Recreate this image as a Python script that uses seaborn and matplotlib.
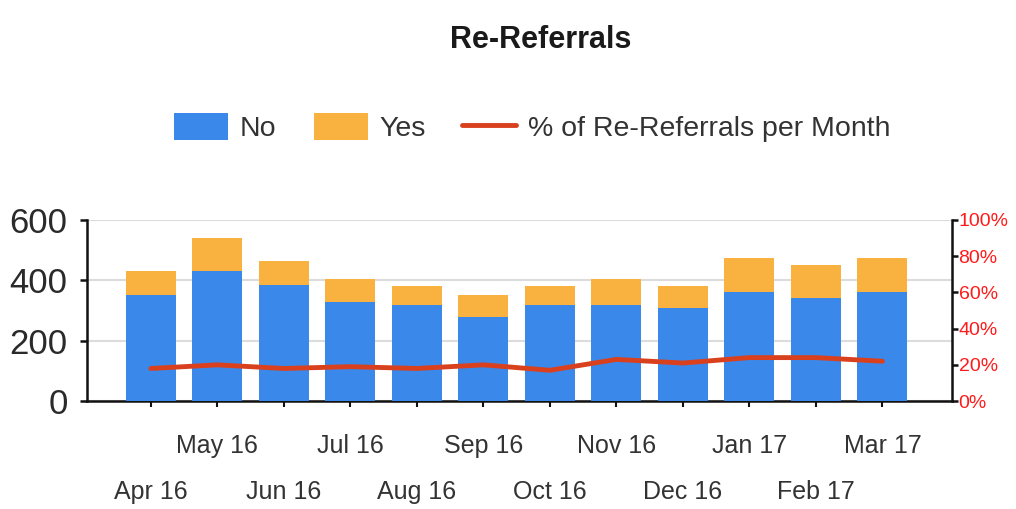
import matplotlib
matplotlib.use("Agg")
import matplotlib.pyplot as plt
import seaborn as sns
import pandas as pd
import numpy as np

# --- data ---
months = ["Apr 16", "May 16", "Jun 16", "Jul 16", "Aug 16", "Sep 16",
          "Oct 16", "Nov 16", "Dec 16", "Jan 17", "Feb 17", "Mar 17"]
no_counts = [350, 430, 383, 327, 317, 280, 317, 317, 307, 360, 340, 360]
yes_counts = [80, 110, 80, 76, 63, 70, 63, 86, 73, 113, 110, 113]
pct_rereferrals = [18, 20, 18, 19, 18, 20, 17, 23, 21, 24, 24, 22]
left_ticks = [0, 200, 400, 600]
right_ticks = [0, 20, 40, 60, 80, 100]

df = pd.DataFrame({"Month": months, "No": no_counts, "Yes": yes_counts})
df["Total"] = df["No"] + df["Yes"]

blue = "#3a88ea"
orange = "#f9b13f"
red = "#d9411e"

sns.set_theme(style="white")
plt.rcParams["font.family"] = ["Liberation Sans", "DejaVu Sans"]

fig = plt.figure(figsize=(10.16, 5.09), dpi=100)
ax = fig.add_axes([0.0856, 0.212, 0.851, 0.356])

# stacked bars: total (orange) underneath, "No" (blue) drawn over it
sns.barplot(data=df, x="Month", y="Total", color=orange, saturation=1,
            width=0.75, errorbar=None, label="Yes", linewidth=0, ax=ax, zorder=2)
sns.barplot(data=df, x="Month", y="No", color=blue, saturation=1,
            width=0.75, errorbar=None, label="No", linewidth=0, ax=ax, zorder=3)

ax.set_ylim(0, 600)
ax.set_yticks(left_ticks)
ax.set_xlim(-0.96, 12.04)
ax.set_xlabel("")
ax.set_ylabel("")
ax.grid(axis="y", color="#dcdcdc", linewidth=1.5, zorder=0)
ax.set_axisbelow(True)

for s in ["top", "right"]:
    ax.spines[s].set_visible(False)
for s in ["left", "bottom"]:
    ax.spines[s].set_color("#111111")
    ax.spines[s].set_linewidth(1.8)

ax.tick_params(axis="y", length=5, width=1.8, color="#111111", pad=9,
               labelsize=25, labelcolor="#2a2a2a", left=True)
ax.tick_params(axis="x", length=4, width=1.5, color="#111111",
               labelsize=18, labelcolor="#333333", bottom=True)

# staggered month labels: odd months on the upper row, even on the lower
for i, tick in enumerate(ax.xaxis.get_major_ticks()):
    tick.set_pad(20 if i % 2 else 53)

# percentage line on a secondary axis
ax2 = ax.twinx()
sns.lineplot(x=np.arange(len(months)), y=pct_rereferrals, ax=ax2, color=red,
             linewidth=3.5, label="% of Re-Referrals per Month")
ax2.set_ylim(0, 100)
ax2.set_yticks(right_ticks)
ax2.set_yticklabels([f"{t}%" for t in right_ticks])
ax2.set_ylabel("")
for s in ["top", "left", "bottom"]:
    ax2.spines[s].set_visible(False)
ax2.spines["right"].set_color("#111111")
ax2.spines["right"].set_linewidth(1.8)
ax2.tick_params(axis="y", length=4, width=1.8, color="#111111", pad=1,
                labelsize=14, labelcolor="#ff1a1a", right=True)

for a in (ax, ax2):
    if a.get_legend() is not None:
        a.get_legend().remove()

h1, l1 = ax.get_legend_handles_labels()
h2, l2 = ax2.get_legend_handles_labels()
lookup = dict(zip(l1 + l2, h1 + h2))
order = ["No", "Yes", "% of Re-Referrals per Month"]
fig.legend([lookup[k] for k in order], order, loc="center",
           bbox_to_anchor=(0.524, 0.749), ncol=3, frameon=False,
           fontsize=20.5, handlelength=1.9, handleheight=1.05,
           handletextpad=0.4, columnspacing=1.3, labelcolor="#333333")

fig.text(0.532, 1 - 40 / 509, "Re-Referrals", ha="center", va="center",
         fontsize=22, fontweight="bold", color="#1a1a1a")

fig.savefig("out.png", dpi=100)
